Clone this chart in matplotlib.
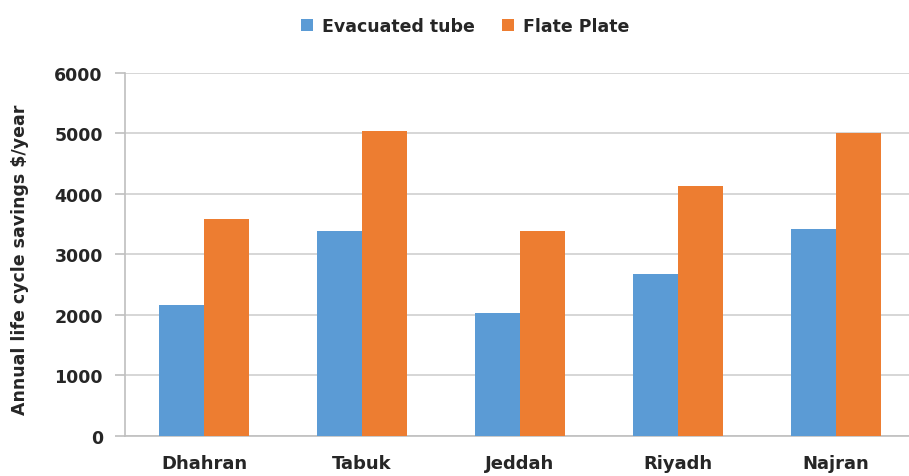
import matplotlib.pyplot as plt
import numpy as np

cities = ["Dhahran", "Tabuk", "Jeddah", "Riyadh", "Najran"]
evacuated_tube = [2170, 3380, 2030, 2670, 3420]
flat_plate = [3580, 5040, 3380, 4130, 5000]
y_ticks = [0, 1000, 2000, 3000, 4000, 5000, 6000]

blue = "#5B9BD5"
orange = "#ED7D31"
text_col = "#262626"

fig = plt.figure(figsize=(9.09, 4.77), dpi=100)
ax = fig.add_axes([0.1375, 0.0839, 0.869, 0.761])

x = np.arange(len(cities))
w = 0.285
ax.bar(x - w / 2, evacuated_tube, width=w, color=blue, label="Evacuated tube", zorder=3)
ax.bar(x + w / 2, flat_plate, width=w, color=orange, label="Flate Plate", zorder=3)

ax.set_xlim(-0.5, len(cities) - 0.5)
ax.set_ylim(0, 6000)
ax.set_yticks(y_ticks)
ax.set_yticklabels([str(v) for v in y_ticks], fontsize=12.5, fontweight="bold", color=text_col)
ax.set_xticks(x)
ax.set_xticklabels(cities, fontsize=13, fontweight="bold", color=text_col)

ax.grid(axis="y", color="#D0D0D0", linewidth=1.2, zorder=0)
for side in ["top", "right"]:
    ax.spines[side].set_visible(False)
ax.spines["left"].set_color("#BFBFBF")
ax.spines["bottom"].set_color("#BFBFBF")
ax.spines["left"].set_linewidth(1.2)
ax.spines["bottom"].set_linewidth(1.2)
ax.tick_params(axis="y", length=7, width=1.2, color="#BFBFBF", pad=9)
ax.tick_params(axis="x", length=0, pad=13)

ax.set_ylabel("Annual life cycle savings $/year", fontsize=12.5, fontweight="bold",
              color=text_col)
ax.yaxis.set_label_coords(-0.121, 0.487)

fig.legend(loc="center", bbox_to_anchor=(0.5116, 0.943), ncol=2, frameon=False,
           prop={"weight": "bold", "size": 12.5}, handlelength=0.7, handleheight=0.7,
           columnspacing=1.6, handletextpad=0.5, labelcolor=text_col)

fig.savefig("out.png", dpi=100)
